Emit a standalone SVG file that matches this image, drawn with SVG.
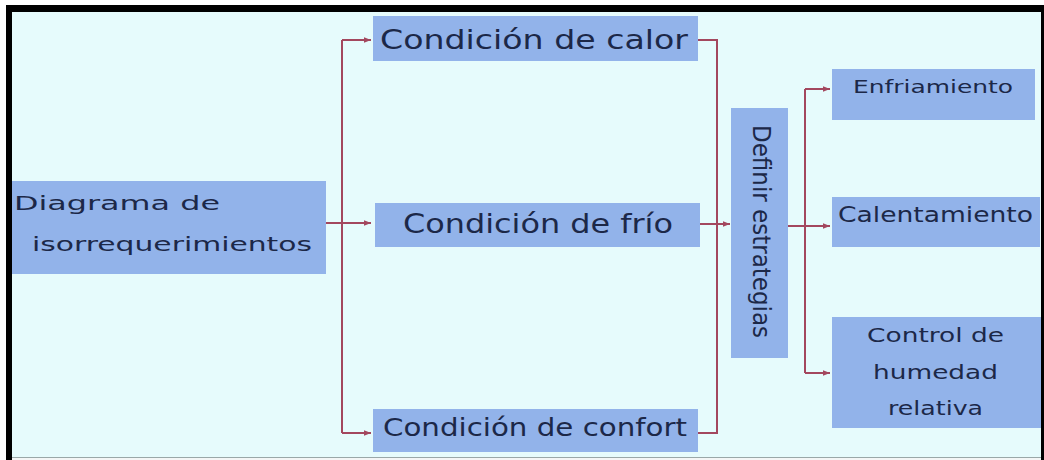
<svg xmlns="http://www.w3.org/2000/svg" width="1044" height="460" viewBox="0 0 1044 460">
<style>
.box{fill:#92b3ea}
.t{font-family:"DejaVu Sans","Liberation Sans",sans-serif;fill:#1c2848}
.c{fill:none;stroke:#a3475e;stroke-width:2}
</style>
<defs>
<marker id="ah" viewBox="0 0 8 8" refX="8" refY="4" markerWidth="7" markerHeight="7" markerUnits="userSpaceOnUse" orient="auto">
<path d="M0,0.8 L8,4 L0,7.2 Z" fill="#a3475e"/>
</marker>
</defs>
<rect x="0" y="0" width="1044" height="460" fill="#ffffff"/>
<rect x="6" y="5" width="1038" height="455" fill="#000000"/>
<rect x="12" y="12" width="1029" height="448" fill="#e6fbfc"/>
<line x1="12" y1="457.5" x2="1041" y2="457.5" stroke="#9aa8a8" stroke-width="1"/>
<rect x="12" y="458" width="1029" height="2" fill="#f4f6f6"/>

<g id="connectors">
<path class="c" d="M326,223 H371" marker-end="url(#ah)"/>
<path class="c" d="M342,40 V433"/>
<path class="c" d="M342,40 H371" marker-end="url(#ah)"/>
<path class="c" d="M342,433 H371" marker-end="url(#ah)"/>
<path class="c" d="M698,40 H717 V433 H698"/>
<path class="c" d="M700,224 H730" marker-end="url(#ah)"/>
<path class="c" d="M788,226 H830" marker-end="url(#ah)"/>
<path class="c" d="M805,89 V373"/>
<path class="c" d="M805,89 H830" marker-end="url(#ah)"/>
<path class="c" d="M805,373 H830" marker-end="url(#ah)"/>
</g>

<g id="diagrama">
<rect class="box" x="12" y="181" width="314" height="93"/>
<text class="t" x="14" y="209.5" font-size="20" textLength="206" lengthAdjust="spacingAndGlyphs">Diagrama de</text>
<text class="t" x="32" y="250.5" font-size="20" textLength="280" lengthAdjust="spacingAndGlyphs">isorrequerimientos</text>
</g>

<g id="calor">
<rect class="box" x="373" y="16" width="325" height="45"/>
<text class="t" x="380" y="49" font-size="26" textLength="308" lengthAdjust="spacingAndGlyphs">Condición de calor</text>
</g>

<g id="frio">
<rect class="box" x="375" y="203" width="325" height="44"/>
<text class="t" x="403" y="233" font-size="26" textLength="270" lengthAdjust="spacingAndGlyphs">Condición de frío</text>
</g>

<g id="confort">
<rect class="box" x="373" y="409" width="325" height="43"/>
<text class="t" x="383" y="436" font-size="25" textLength="304" lengthAdjust="spacingAndGlyphs">Condición de confort</text>
</g>

<g id="definir">
<rect class="box" x="731" y="108" width="57" height="250"/>
<text class="t" transform="translate(753,231.5) rotate(90)" x="0" y="0" text-anchor="middle" font-size="25" textLength="213" lengthAdjust="spacingAndGlyphs">Definir estrategias</text>
</g>

<g id="enfriamiento">
<rect class="box" x="832" y="69" width="203" height="51"/>
<text class="t" x="853" y="93" font-size="18" textLength="160" lengthAdjust="spacingAndGlyphs">Enfriamiento</text>
</g>

<g id="calentamiento">
<rect class="box" x="832" y="197" width="208" height="50"/>
<text class="t" x="838" y="222" font-size="21" textLength="195" lengthAdjust="spacingAndGlyphs">Calentamiento</text>
</g>

<g id="control">
<rect class="box" x="832" y="317" width="209" height="111"/>
<text class="t" x="867" y="342" font-size="19" textLength="137" lengthAdjust="spacingAndGlyphs">Control de</text>
<text class="t" x="873" y="378.5" font-size="19" textLength="125" lengthAdjust="spacingAndGlyphs">humedad</text>
<text class="t" x="888" y="415" font-size="19" textLength="95" lengthAdjust="spacingAndGlyphs">relativa</text>
</g>
</svg>
